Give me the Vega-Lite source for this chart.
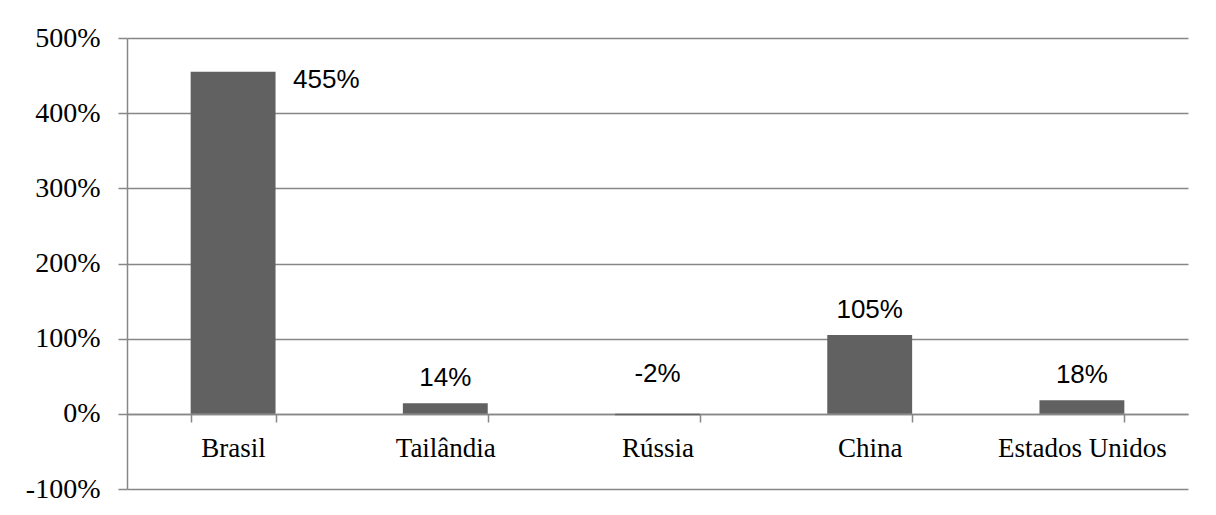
{
  "$schema": "https://vega.github.io/schema/vega-lite/v6.json",
  "width": 1061,
  "height": 451,
  "autosize": {"type": "none"},
  "padding": {"left": 127, "top": 38, "right": 28, "bottom": 26},
  "background": "white",
  "config": {"view": {"stroke": null}},
  "data": {
    "values": [
      {"country": "Brasil", "change": 455},
      {"country": "Tailândia", "change": 14},
      {"country": "Rússia", "change": -2},
      {"country": "China", "change": 105},
      {"country": "Estados Unidos", "change": 18}
    ]
  },
  "transform": [{"calculate": "datum.change + '%'", "as": "label"}],
  "encoding": {
    "x": {
      "field": "country",
      "type": "nominal",
      "sort": ["Brasil", "Tailândia", "Rússia", "China", "Estados Unidos"],
      "scale": {"paddingInner": 0.6, "paddingOuter": 0.3},
      "axis": {
        "title": null,
        "offset": -75,
        "tickBand": "extent",
        "tickSize": 8,
        "tickWidth": 1.5,
        "tickColor": "#878787",
        "domainColor": "#878787",
        "domainWidth": 1.5,
        "labelFont": "Liberation Serif",
        "labelFontSize": 27,
        "labelColor": "black",
        "labelAngle": 0,
        "labelBaseline": "alphabetic",
        "labelPadding": 34,
        "grid": false
      }
    },
    "y": {
      "field": "change",
      "type": "quantitative",
      "scale": {"domain": [-100, 500], "nice": false, "zero": false},
      "axis": {
        "title": null,
        "values": [-100, 0, 100, 200, 300, 400, 500],
        "labelExpr": "datum.value + '%'",
        "grid": true,
        "gridColor": "#878787",
        "gridWidth": 1.5,
        "domainColor": "#878787",
        "domainWidth": 1.5,
        "tickColor": "#878787",
        "tickWidth": 1.5,
        "tickSize": 9,
        "labelPadding": 18,
        "labelFont": "Liberation Serif",
        "labelFontSize": 28,
        "labelColor": "black"
      }
    }
  },
  "layer": [
    {"mark": {"type": "bar", "color": "#616161"}},
    {
      "transform": [{"filter": "datum.country == 'Brasil'"}],
      "mark": {"type": "text", "align": "left", "baseline": "alphabetic", "dx": 60, "dy": 16, "font": "Liberation Sans", "fontSize": 26, "color": "black"},
      "encoding": {"text": {"field": "label"}}
    },
    {
      "transform": [{"filter": "datum.country != 'Brasil' && datum.change >= 0"}],
      "mark": {"type": "text", "align": "center", "baseline": "alphabetic", "dy": -17, "font": "Liberation Sans", "fontSize": 26, "color": "black"},
      "encoding": {"text": {"field": "label"}}
    },
    {
      "transform": [{"filter": "datum.change < 0"}],
      "mark": {"type": "text", "align": "center", "baseline": "alphabetic", "dy": -33, "font": "Liberation Sans", "fontSize": 26, "color": "black"},
      "encoding": {"text": {"field": "label"}}
    }
  ]
}
